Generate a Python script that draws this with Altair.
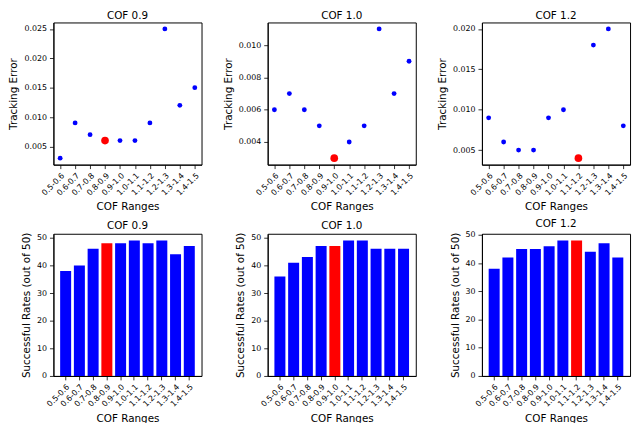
import altair as alt
import pandas as pd

ranges = ["0.5-0.6", "0.6-0.7", "0.7-0.8", "0.8-0.9", "0.9-1.0",
          "1.0-1.1", "1.1-1.2", "1.2-1.3", "1.3-1.4", "1.4-1.5"]
cof_titles = ["COF 0.9", "COF 1.0", "COF 1.2"]

err_09 = [0.003, 0.009, 0.007, 0.006, 0.006, 0.006, 0.009, 0.025, 0.012, 0.015]
err_10 = [0.006, 0.007, 0.006, 0.005, 0.003, 0.004, 0.005, 0.011, 0.007, 0.009]
err_12 = [0.009, 0.006, 0.005, 0.005, 0.009, 0.010, 0.004, 0.018, 0.020, 0.008]

succ_09 = [38, 40, 46, 48, 48, 49, 48, 49, 44, 47]
succ_10 = [36, 41, 43, 47, 47, 49, 49, 46, 46, 46]
succ_12 = [38, 42, 45, 45, 46, 48, 48, 44, 47, 42]

best_idx = [3, 4, 6]

err_ticks = [
    [0.005, 0.010, 0.015, 0.020, 0.025],
    [0.004, 0.006, 0.008, 0.010],
    [0.005, 0.010, 0.015, 0.020],
]
succ_ticks = [0, 10, 20, 30, 40, 50]

W, H = 150, 144
BLUE, RED = "#0000ff", "#ff0000"

xaxis = alt.Axis(labelAngle=-45, labelAlign="right", labelBaseline="top",
                 labelOverlap=False, labelFlush=False)


def scatter(title, vals, best, ticks):
    df = pd.DataFrame({"r": ranges, "v": vals,
                       "best": [i == best for i in range(len(ranges))]})
    lo, hi = min(vals), max(vals)
    m = (hi - lo) * 0.05
    return alt.Chart(df).mark_circle(opacity=1).encode(
        x=alt.X("r:N", sort=ranges, title="COF Ranges",
                scale=alt.Scale(type="point", padding=0.45), axis=xaxis),
        y=alt.Y("v:Q", title="Tracking Error",
                scale=alt.Scale(domain=[lo - m, hi + m], nice=False, zero=False),
                axis=alt.Axis(values=ticks, format=".3f")),
        color=alt.condition("datum.best", alt.value(RED), alt.value(BLUE)),
        size=alt.condition("datum.best", alt.value(60), alt.value(24)),
    ).properties(width=W, height=H, title=title)


def bars(title, vals, best):
    df = pd.DataFrame({"r": ranges, "v": vals,
                       "best": [i == best for i in range(len(ranges))]})
    return alt.Chart(df).mark_bar().encode(
        x=alt.X("r:N", sort=ranges, title="COF Ranges",
                scale=alt.Scale(paddingInner=0.2, paddingOuter=0.49), axis=xaxis),
        y=alt.Y("v:Q", title="Successful Rates (out of 50)",
                scale=alt.Scale(domain=[0, max(vals) * 1.05], nice=False),
                axis=alt.Axis(values=succ_ticks, format="d")),
        color=alt.condition("datum.best", alt.value(RED), alt.value(BLUE)),
    ).properties(width=W, height=H, title=title)


panels = [
    scatter(cof_titles[0], err_09, best_idx[0], err_ticks[0]),
    scatter(cof_titles[1], err_10, best_idx[1], err_ticks[1]),
    scatter(cof_titles[2], err_12, best_idx[2], err_ticks[2]),
    bars(cof_titles[0], succ_09, best_idx[0]),
    bars(cof_titles[1], succ_10, best_idx[1]),
    bars(cof_titles[2], succ_12, best_idx[2]),
]

chart = alt.concat(
    *panels, columns=3, spacing={"row": 70, "column": 67}, bounds="flush"
).properties(
    autosize=alt.AutoSizeParams(type="none"),
    padding={"left": 46, "top": 12, "right": 587, "bottom": 403}
).configure_view(
    stroke="black", strokeWidth=1
).configure_axis(
    domainColor="black", domainWidth=1, tickColor="black", tickSize=4,
    tickWidth=0.8, labelFont="DejaVu Sans", labelFontSize=8, labelColor="black",
    titleFont="DejaVu Sans", titleFontSize=10.5, titleFontWeight="normal",
    titleColor="black", grid=False, labelPadding=3, titlePadding=5
).configure_title(
    font="DejaVu Sans", fontSize=10.5, fontWeight="normal", color="black",
    offset=1
)

chart.save("out.html", embed_options={"renderer": "svg", "actions": False})
